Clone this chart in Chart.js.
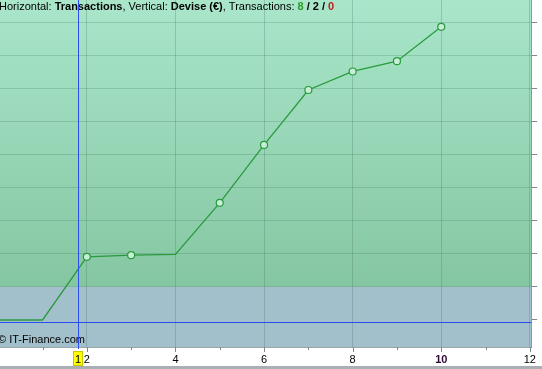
<!DOCTYPE html>
<html>
<head>
<meta charset="utf-8">
<script src="https://cdn.jsdelivr.net/npm/chart.js@4.4.0/dist/chart.umd.min.js"></script>
<style>
  html, body { margin: 0; padding: 0; background: #fff; overflow: hidden; }
  canvas { display: block; }
</style>
</head>
<body>
<canvas id="equityChart" width="542" height="369"></canvas>
<script>
// ============================================================================
// DATA (the value axis labels are cropped away)
// ============================================================================

const txIndex     = [0, 1, 2, 3, 4, 5, 6, 7, 8, 9, 10];
const balance     = [0, 0, 1.91, 1.96, 1.98, 3.54, 5.29, 6.95, 7.51, 7.82, 8.86];
const markerShown = [false, false, true, true, false, true, true, true, true, true, true];

const xTicks      = [1, 2, 3, 4, 5, 6, 7, 8, 9, 10, 11, 12];
const xLabelled   = [2, 4, 6, 8, 10, 12];
const yTicks      = [0, 1, 2, 3, 4, 5, 6, 7, 8, 9];

const cursorX = 1.79;
const cursorY = -0.06;
const cursorLabel = '1';

const tradeCounts = ['8', '2', '0'];   // win / neutral / loss
const FONT = '"Liberation Sans", Arial, sans-serif';

// ============================================================================
// PLUGINS
// ============================================================================

const backdrop = {
    id: 'backdrop',
    beforeDraw(chart) {
        const { ctx, chartArea: a, scales: { y } } = chart;
        ctx.save();
        ctx.fillStyle = '#ffffff';
        ctx.fillRect(0, 0, chart.width, chart.height);
        ctx.fillStyle = '#a9afb5';
        ctx.fillRect(0, chart.height - 3, chart.width, 3);

        const split = y.getPixelForValue(1);
        const g = ctx.createLinearGradient(0, a.top, 0, split);
        g.addColorStop(0, '#a9e6ca');
        g.addColorStop(1, '#85c6a2');
        ctx.fillStyle = g;
        ctx.fillRect(a.left, a.top, a.right - a.left, split - a.top);
        ctx.fillStyle = '#a2bfcc';
        ctx.fillRect(a.left, split, a.right - a.left, a.bottom - split);
        ctx.restore();
    }
};

const overlay = {
    id: 'overlay',
    beforeDatasetsDraw(chart) {
        const { ctx, chartArea: a, scales: { x, y } } = chart;
        ctx.save();

        // header text with mixed weights
        const runs = [
            ['Horizontal: ', 'normal', '#000'],
            ['Transactions', 'bold', '#000'],
            [', Vertical: ', 'normal', '#000'],
            ['Devise (\u20ac)', 'bold', '#000'],
            [', Transactions: ', 'normal', '#000'],
            [tradeCounts[0], 'bold', '#2a9d2a'],
            [' / ', 'bold', '#000'],
            [tradeCounts[1], 'bold', '#000'],
            [' / ', 'bold', '#000'],
            [tradeCounts[2], 'bold', '#c0201e']
        ];
        let tx = -1;
        ctx.textBaseline = 'alphabetic';
        runs.forEach(([text, weight, color]) => {
            ctx.font = `${weight} 11px ${FONT}`;
            ctx.fillStyle = color;
            ctx.fillText(text, tx, 10);
            tx += ctx.measureText(text).width;
        });

        // footer
        ctx.font = `normal 11px ${FONT}`;
        ctx.fillStyle = '#000';
        ctx.fillText('\u00a9 IT-Finance.com', -2, 343);

        // horizontal cursor line sits under the equity line
        const cy = Math.round(y.getPixelForValue(cursorY));
        ctx.fillStyle = '#2a4cf0';
        ctx.fillRect(a.left, cy, a.right - a.left, 1);
        ctx.restore();
    },
    afterDraw(chart) {
        const { ctx, chartArea: a, scales: { x } } = chart;
        ctx.save();

        // vertical cursor line
        const cx = Math.round(x.getPixelForValue(cursorX));
        ctx.fillStyle = '#2a4cf0';
        ctx.fillRect(cx, a.top, 1, a.bottom + 2 - a.top);

        // tick marks below the plot: long at labelled values, short elsewhere
        ctx.strokeStyle = '#7d8a90';
        ctx.lineWidth = 1;
        ctx.beginPath();
        xTicks.forEach(v => {
            const px = Math.round(x.getPixelForValue(v)) + 0.5;
            const len = xLabelled.includes(v) ? 5 : 3;
            ctx.moveTo(px, a.bottom);
            ctx.lineTo(px, a.bottom + len);
        });
        ctx.stroke();

        // cursor badge
        ctx.fillStyle = '#ffff00';
        ctx.fillRect(cx - 5, a.bottom + 4, 10, 15);
        ctx.strokeStyle = '#c8c800';
        ctx.strokeRect(cx - 4.5, a.bottom + 4.5, 9, 14);
        ctx.font = `normal 11px ${FONT}`;
        ctx.fillStyle = '#000';
        ctx.textAlign = 'center';
        ctx.textBaseline = 'alphabetic';
        ctx.fillText(cursorLabel, cx, a.bottom + 15.5);
        ctx.restore();
    }
};

// ============================================================================
// CHART
// ============================================================================

const ctx = document.getElementById('equityChart').getContext('2d');
const equityChart = new Chart(ctx, {
    type: 'line',
    data: {
        datasets: [{
            data: txIndex.map((t, i) => ({ x: t, y: balance[i] })),
            borderColor: '#2a9a3e',
            borderWidth: 1.3,
            tension: 0,
            pointRadius: markerShown.map(s => s ? 3.5 : 0),
            pointBackgroundColor: '#c9eed7',
            pointBorderColor: '#2a9a3e',
            pointBorderWidth: 1.2
        }]
    },
    options: {
        responsive: false,
        animation: false,
        events: [],
        layout: { autoPadding: false, padding: { left: 0, right: 0, top: 0, bottom: 3 } },
        plugins: { legend: { display: false }, tooltip: { enabled: false } },
        scales: {
            x: {
                type: 'linear',
                min: 0.04,
                max: 12.03,
                afterBuildTicks: scale => { scale.ticks = xTicks.map(v => ({ value: v })); },
                afterFit: scale => { scale.height = 19; },
                ticks: {
                    autoSkip: false,
                    maxRotation: 0,
                    padding: 6,
                    color: ctx => ctx.tick && ctx.tick.value === 10 ? '#2a0a30' : '#000',
                    font: ctx => ({
                        family: FONT,
                        size: 11,
                        weight: ctx.tick && ctx.tick.value === 10 ? 'bold' : 'normal'
                    }),
                    callback: v => xLabelled.includes(v) ? String(v) : ''
                },
                grid: {
                    drawTicks: false,
                    color: ctx => ctx.tick && xLabelled.includes(ctx.tick.value)
                        ? 'rgba(80,120,110,0.3)' : 'rgba(0,0,0,0)'
                },
                border: { display: true, color: '#9aa6ac' }
            },
            y: {
                position: 'right',
                min: -0.816,
                max: 9.67,
                afterBuildTicks: scale => { scale.ticks = yTicks.map(v => ({ value: v })); },
                ticks: { display: false },
                grid: {
                    drawTicks: true,
                    tickLength: 6,
                    color: ctx => ctx.tick && ctx.tick.value === 0
                        ? 'rgba(0,0,0,0)' : 'rgba(60,120,90,0.25)',
                    tickColor: '#7d8a90'
                },
                border: { display: true, color: '#8a979c' }
            }
        }
    },
    plugins: [backdrop, overlay]
});
</script>
</body>
</html>
